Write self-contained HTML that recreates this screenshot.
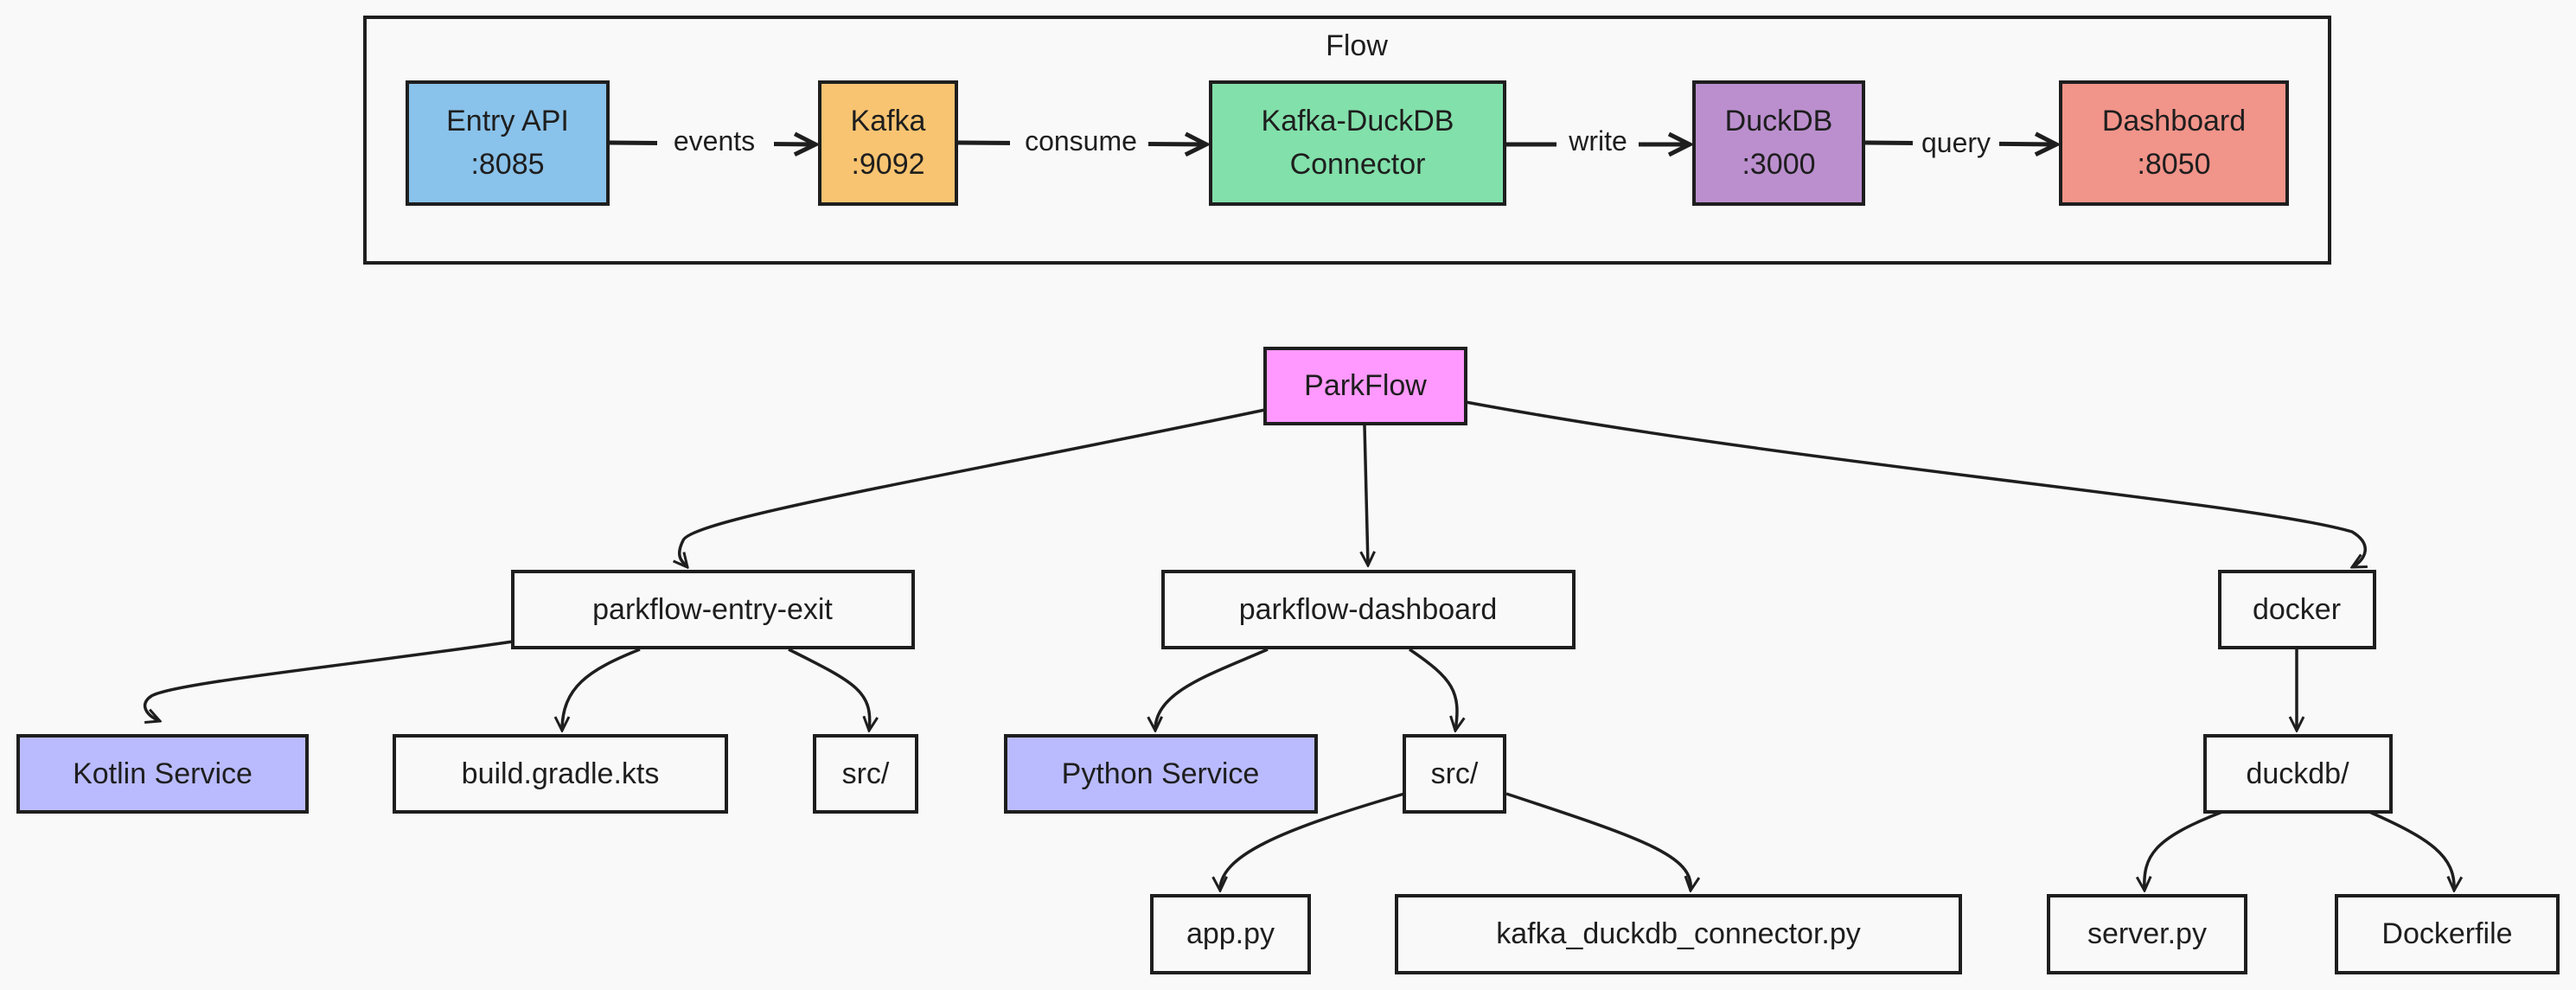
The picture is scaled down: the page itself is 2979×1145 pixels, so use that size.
<!DOCTYPE html>
<html><head><meta charset="utf-8"><style>
html,body{margin:0;padding:0;background:#f9f9f9;}
svg{display:block}
text{font-family:"Liberation Sans",sans-serif;fill:#1e1e1e;text-anchor:middle;dominant-baseline:central}
</style></head><body>
<svg width="2979" height="1145" viewBox="0 0 2979 1145" xmlns="http://www.w3.org/2000/svg">
<defs>
<marker id="a" viewBox="0 0 20 20" refX="18" refY="10" markerWidth="20" markerHeight="20" markerUnits="userSpaceOnUse" orient="auto">
<path d="M2,2 L18,10 L2,18" fill="none" stroke="#1e1e1e" stroke-width="3"/></marker>
<marker id="b" viewBox="0 0 30 30" refX="27" refY="15" markerWidth="30" markerHeight="30" markerUnits="userSpaceOnUse" orient="auto">
<path d="M3,3 L27,15 L3,27" fill="none" stroke="#1e1e1e" stroke-width="5"/></marker>
</defs>
<rect width="2979" height="1145" fill="#f9f9f9"/>
<g stroke="#1e1e1e" stroke-width="4">
<rect x="422" y="20" width="2272" height="284" fill="none"/>
<rect x="471" y="95" width="232" height="141" fill="#89c2ea"/>
<rect x="948" y="95" width="158" height="141" fill="#f8c471"/>
<rect x="1400" y="95" width="340" height="141" fill="#82e0aa"/>
<rect x="1959" y="95" width="196" height="141" fill="#bb8fce"/>
<rect x="2383" y="95" width="262" height="141" fill="#f1948a"/>
<rect x="1463" y="403" width="232" height="87" fill="#ff99ff"/>
<rect x="593" y="661" width="463" height="88" fill="#f9f9f9"/>
<rect x="1345" y="661" width="475" height="88" fill="#f9f9f9"/>
<rect x="2567" y="661" width="179" height="88" fill="#f9f9f9"/>
<rect x="21" y="851" width="334" height="88" fill="#babbff"/>
<rect x="456" y="851" width="384" height="88" fill="#f9f9f9"/>
<rect x="942" y="851" width="118" height="88" fill="#f9f9f9"/>
<rect x="1163" y="851" width="359" height="88" fill="#babbff"/>
<rect x="1624" y="851" width="116" height="88" fill="#f9f9f9"/>
<rect x="2550" y="851" width="215" height="88" fill="#f9f9f9"/>
<rect x="1332" y="1036" width="182" height="89" fill="#f9f9f9"/>
<rect x="1615" y="1036" width="652" height="89" fill="#f9f9f9"/>
<rect x="2369" y="1036" width="228" height="89" fill="#f9f9f9"/>
<rect x="2702" y="1036" width="256" height="89" fill="#f9f9f9"/>
</g>
<g fill="none" stroke="#1e1e1e" stroke-width="5" marker-end="url(#b)">
<path d="M705,165 L943,167"/>
<path d="M1108,165 L1395,167"/>
<path d="M1742,167 L1954,167"/>
<path d="M2157,165 L2378,167"/>
</g>
<g font-size="32">
<rect x="760" y="145" width="135" height="40" fill="#f9f9f9"/><text x="826" y="163">events</text>
<rect x="1168" y="145" width="160" height="40" fill="#f9f9f9"/><text x="1250" y="163">consume</text>
<rect x="1800" y="145" width="95" height="40" fill="#f9f9f9"/><text x="1848" y="163">write</text>
<rect x="2212" y="145" width="100" height="40" fill="#f9f9f9"/><text x="2262" y="165">query</text>
</g>
<g fill="none" stroke="#1e1e1e" stroke-width="3.5" marker-end="url(#a)">
<path d="M1463,474 C1100,550 800,600 790,625 C780,645 790,650 795,656"/>
<path d="M1578,492 L1582,654"/>
<path d="M1695,465 C2100,540 2600,580 2720,615 C2745,630 2735,648 2720,656"/>
<path d="M593,742 C400,770 200,790 175,805 C160,815 170,828 185,834"/>
<path d="M740,751 C680,775 650,795 650,845"/>
<path d="M912,751 C990,790 1010,800 1005,845"/>
<path d="M1466,751 C1400,780 1335,800 1336,845"/>
<path d="M1630,751 C1680,785 1690,800 1683,845"/>
<path d="M2656,751 L2656,845"/>
<path d="M1624,918 C1480,960 1410,990 1411,1030"/>
<path d="M1742,918 C1900,970 1960,990 1955,1030"/>
<path d="M2570,939 C2490,970 2478,990 2480,1030"/>
<path d="M2740,939 C2810,970 2840,990 2838,1030"/>
</g>
<g font-size="34">
<text x="1569" y="53">Flow</text>
<text x="587" y="140">Entry API</text><text x="587" y="190">:8085</text>
<text x="1027" y="140">Kafka</text><text x="1027" y="190">:9092</text>
<text x="1570" y="140">Kafka-DuckDB</text><text x="1570" y="190">Connector</text>
<text x="2057" y="140">DuckDB</text><text x="2057" y="190">:3000</text>
<text x="2514" y="140">Dashboard</text><text x="2514" y="190">:8050</text>
<text x="1579" y="446">ParkFlow</text>
<text x="824" y="705">parkflow-entry-exit</text>
<text x="1582" y="705">parkflow-dashboard</text>
<text x="2656" y="705">docker</text>
<text x="188" y="895">Kotlin Service</text>
<text x="648" y="895">build.gradle.kts</text>
<text x="1001" y="895">src/</text>
<text x="1342" y="895">Python Service</text>
<text x="1682" y="895">src/</text>
<text x="2657" y="895">duckdb/</text>
<text x="1423" y="1080">app.py</text>
<text x="1941" y="1080">kafka_duckdb_connector.py</text>
<text x="2483" y="1080">server.py</text>
<text x="2830" y="1080">Dockerfile</text>
</g>
</svg>
</body></html>
